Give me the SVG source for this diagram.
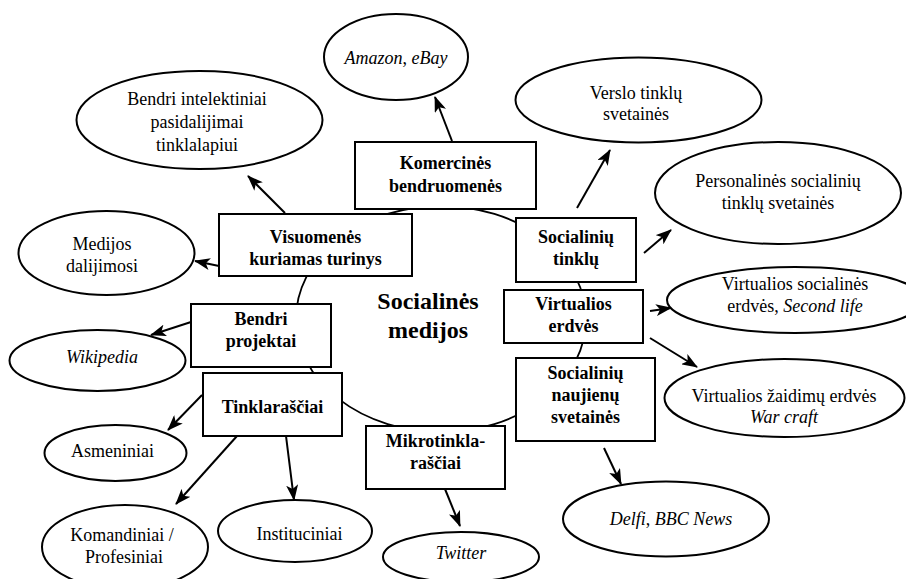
<svg xmlns="http://www.w3.org/2000/svg" width="906" height="579" viewBox="0 0 906 579">
<defs>
  <marker id="ah" viewBox="0 0 16 12" refX="15" refY="6" markerWidth="16" markerHeight="12" markerUnits="userSpaceOnUse" orient="auto">
    <path d="M0,0 L16,6 L0,12 L4,6 z" fill="#000"/>
  </marker>
</defs>
<rect width="906" height="579" fill="#fff"/>

<g id="ring">
  <ellipse fill="none" stroke="#000" stroke-width="1.8" cx="441" cy="319" rx="145" ry="113"/>
</g>

<g id="connectors" stroke="#000" stroke-width="2" fill="none" marker-end="url(#ah)">
  <line x1="285" y1="213" x2="248" y2="176"/>
  <line x1="219" y1="266" x2="195" y2="261"/>
  <line x1="452" y1="141" x2="435" y2="97"/>
  <line x1="577" y1="208" x2="610" y2="150"/>
  <line x1="644" y1="253" x2="671" y2="230"/>
  <line x1="650" y1="311" x2="671" y2="308"/>
  <line x1="650" y1="338" x2="697" y2="367"/>
  <line x1="604" y1="448" x2="621" y2="484"/>
  <line x1="445" y1="489" x2="460" y2="526"/>
  <line x1="191" y1="322" x2="151" y2="335"/>
  <line x1="202" y1="395" x2="168" y2="430"/>
  <line x1="237" y1="436" x2="176" y2="504"/>
  <line x1="286" y1="436" x2="294" y2="500"/>
</g>

<g id="center">
  <text font-family="Liberation Serif" font-size="24" font-weight="bold" text-anchor="middle" x="428" y="309">Socialinės</text>
  <text font-family="Liberation Serif" font-size="24" font-weight="bold" text-anchor="middle" x="428" y="338">medijos</text>
</g>

<g id="komercines">
  <rect fill="#fff" stroke="#000" stroke-width="2" x="355" y="142" width="181" height="67"/>
  <text font-family="Liberation Serif" font-size="18" font-weight="bold" text-anchor="middle" x="445.5" y="169">Komercinės</text>
  <text font-family="Liberation Serif" font-size="18" font-weight="bold" text-anchor="middle" x="445.5" y="192">bendruomenės</text>
</g>
<g id="visuomenes">
  <rect fill="#fff" stroke="#000" stroke-width="2" x="219" y="214" width="193" height="62"/>
  <text font-family="Liberation Serif" font-size="18" font-weight="bold" text-anchor="middle" x="315.5" y="243">Visuomenės</text>
  <text font-family="Liberation Serif" font-size="18" font-weight="bold" text-anchor="middle" x="315.5" y="265">kuriamas turinys</text>
</g>
<g id="socialiniu-tinklu">
  <rect fill="#fff" stroke="#000" stroke-width="2" x="516" y="218" width="120" height="64"/>
  <text font-family="Liberation Serif" font-size="18" font-weight="bold" text-anchor="middle" x="576" y="243">Socialinių</text>
  <text font-family="Liberation Serif" font-size="18" font-weight="bold" text-anchor="middle" x="576" y="265">tinklų</text>
</g>
<g id="virtualios-erdves">
  <rect fill="#fff" stroke="#000" stroke-width="2" x="504" y="290" width="139" height="53"/>
  <text font-family="Liberation Serif" font-size="18" font-weight="bold" text-anchor="middle" x="573.5" y="310">Virtualios</text>
  <text font-family="Liberation Serif" font-size="18" font-weight="bold" text-anchor="middle" x="573.5" y="332">erdvės</text>
</g>
<g id="socialiniu-naujienu">
  <rect fill="#fff" stroke="#000" stroke-width="2" x="516" y="358" width="139" height="83"/>
  <text font-family="Liberation Serif" font-size="18" font-weight="bold" text-anchor="middle" x="585.5" y="379">Socialinių</text>
  <text font-family="Liberation Serif" font-size="18" font-weight="bold" text-anchor="middle" x="585.5" y="401">naujienų</text>
  <text font-family="Liberation Serif" font-size="18" font-weight="bold" text-anchor="middle" x="585.5" y="423">svetainės</text>
</g>
<g id="bendri-projektai">
  <rect fill="#fff" stroke="#000" stroke-width="2" x="191" y="304" width="140" height="63"/>
  <text font-family="Liberation Serif" font-size="18" font-weight="bold" text-anchor="middle" x="261" y="325">Bendri</text>
  <text font-family="Liberation Serif" font-size="18" font-weight="bold" text-anchor="middle" x="261" y="347">projektai</text>
</g>
<g id="tinklarasciai">
  <rect fill="#fff" stroke="#000" stroke-width="2" x="203" y="373" width="139" height="63"/>
  <text font-family="Liberation Serif" font-size="18" font-weight="bold" text-anchor="middle" x="272.5" y="413">Tinklaraščiai</text>
</g>
<g id="mikrotinklarasciai">
  <rect fill="#fff" stroke="#000" stroke-width="2" x="366" y="426" width="139" height="63"/>
  <text font-family="Liberation Serif" font-size="18" font-weight="bold" text-anchor="middle" x="435.5" y="447">Mikrotinkla-</text>
  <text font-family="Liberation Serif" font-size="18" font-weight="bold" text-anchor="middle" x="435.5" y="469">raščiai</text>
</g>

<g id="amazon">
  <ellipse fill="#fff" stroke="#000" stroke-width="2" cx="396" cy="57" rx="72" ry="43"/>
  <text font-family="Liberation Serif" font-size="18" text-anchor="middle" x="396" y="64"><tspan font-style="italic">Amazon</tspan>, <tspan font-style="italic">eBay</tspan></text>
</g>
<g id="bendri-intelektiniai">
  <ellipse fill="#fff" stroke="#000" stroke-width="2" cx="199.5" cy="120" rx="123" ry="49"/>
  <text font-family="Liberation Serif" font-size="18" text-anchor="middle" x="197" y="105">Bendri intelektiniai</text>
  <text font-family="Liberation Serif" font-size="18" text-anchor="middle" x="197" y="128">pasidalijimai</text>
  <text font-family="Liberation Serif" font-size="18" text-anchor="middle" x="197" y="151">tinklalapiui</text>
</g>
<g id="medijos-dalijimosi">
  <ellipse fill="#fff" stroke="#000" stroke-width="2" cx="106.5" cy="253" rx="88" ry="42"/>
  <text font-family="Liberation Serif" font-size="18" text-anchor="middle" x="102" y="250">Medijos</text>
  <text font-family="Liberation Serif" font-size="18" text-anchor="middle" x="102" y="272">dalijimosi</text>
</g>
<g id="verslo">
  <ellipse fill="#fff" stroke="#000" stroke-width="2" cx="638.5" cy="100" rx="123" ry="42.5"/>
  <text font-family="Liberation Serif" font-size="18" text-anchor="middle" x="636" y="99">Verslo tinklų</text>
  <text font-family="Liberation Serif" font-size="18" text-anchor="middle" x="636" y="120">svetainės</text>
</g>
<g id="personalines">
  <ellipse fill="#fff" stroke="#000" stroke-width="2" cx="778" cy="193" rx="123" ry="51"/>
  <text font-family="Liberation Serif" font-size="18" text-anchor="middle" x="778" y="187">Personalinės socialinių</text>
  <text font-family="Liberation Serif" font-size="18" text-anchor="middle" x="778" y="209">tinklų svetainės</text>
</g>
<g id="second-life">
  <ellipse fill="#fff" stroke="#000" stroke-width="2" cx="795" cy="300" rx="128" ry="33"/>
  <text font-family="Liberation Serif" font-size="18" text-anchor="middle" x="795" y="290">Virtualios socialinės</text>
  <text font-family="Liberation Serif" font-size="18" text-anchor="middle" x="795" y="312">erdvės, <tspan font-style="italic">Second life</tspan></text>
</g>
<g id="war-craft">
  <ellipse fill="#fff" stroke="#000" stroke-width="2" cx="784.5" cy="398" rx="120" ry="39"/>
  <text font-family="Liberation Serif" font-size="18" text-anchor="middle" x="784" y="402">Virtualios žaidimų erdvės</text>
  <text font-family="Liberation Serif" font-size="18" font-style="italic" text-anchor="middle" x="784" y="423">War craft</text>
</g>
<g id="delfi">
  <ellipse fill="#fff" stroke="#000" stroke-width="2" cx="666" cy="519" rx="103" ry="37.5"/>
  <text font-family="Liberation Serif" font-size="18" text-anchor="middle" x="671" y="525"><tspan font-style="italic">Delfi</tspan>, <tspan font-style="italic">BBC News</tspan></text>
</g>
<g id="twitter">
  <ellipse fill="#fff" stroke="#000" stroke-width="2" cx="461" cy="557" rx="78" ry="25"/>
  <text font-family="Liberation Serif" font-size="18" font-style="italic" text-anchor="middle" x="461" y="559">Twitter</text>
</g>
<g id="wikipedia">
  <ellipse fill="#fff" stroke="#000" stroke-width="2" cx="97.5" cy="360.5" rx="88" ry="30.5"/>
  <text font-family="Liberation Serif" font-size="18" font-style="italic" text-anchor="middle" x="102" y="363">Wikipedia</text>
</g>
<g id="asmeniniai">
  <ellipse fill="#fff" stroke="#000" stroke-width="2" cx="115.5" cy="453" rx="71" ry="28"/>
  <text font-family="Liberation Serif" font-size="18" text-anchor="middle" x="112.5" y="457">Asmeniniai</text>
</g>
<g id="komandiniai">
  <ellipse fill="#fff" stroke="#000" stroke-width="2" cx="125" cy="547" rx="83" ry="42"/>
  <text font-family="Liberation Serif" font-size="18" text-anchor="middle" x="122" y="541">Komandiniai /</text>
  <text font-family="Liberation Serif" font-size="18" text-anchor="middle" x="124" y="563">Profesiniai</text>
</g>
<g id="instituciniai">
  <ellipse fill="#fff" stroke="#000" stroke-width="2" cx="295" cy="531" rx="77" ry="31"/>
  <text font-family="Liberation Serif" font-size="18" text-anchor="middle" x="299.5" y="540">Instituciniai</text>
</g>
</svg>
